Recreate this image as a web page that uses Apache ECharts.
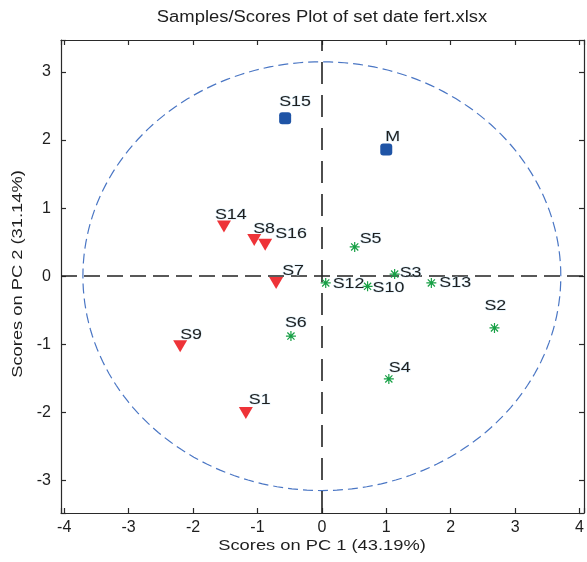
<!DOCTYPE html>
<html>
<head>
<meta charset="utf-8">
<script src="https://cdn.jsdelivr.net/npm/echarts@6/dist/echarts.min.js"></script>
<style>
html,body{margin:0;padding:0;background:#fff;}
#chart{width:587px;height:562px;}
</style>
</head>
<body>
<div id="chart"></div>
<script>
// ---- data ----
var titleText = 'Samples/Scores Plot of set date fert.xlsx';
var xAxisName = 'Scores on PC 1 (43.19%)';
var yAxisName = 'Scores on PC 2 (31.14%)';

var redNames = ['S14', 'S8', 'S16', 'S7', 'S9', 'S1'];
var redPC1 = [-1.52, -1.05, -0.88, -0.71, -2.20, -1.18];
var redPC2 = [0.73, 0.53, 0.46, -0.10, -1.03, -2.01];

var blueNames = ['S15', 'M'];
var bluePC1 = [-0.57, 1.00];
var bluePC2 = [2.32, 1.86];

var greenNames = ['S5', 'S3', 'S12', 'S10', 'S13', 'S2', 'S6', 'S4'];
var greenPC1 = [0.51, 1.13, 0.06, 0.71, 1.70, 2.68, -0.48, 1.04];
var greenPC2 = [0.43, 0.03, -0.10, -0.15, -0.10, -0.76, -0.88, -1.51];

// confidence ellipse semi-axes (data units)
var ellipseRx = [3.71];
var ellipseRy = [3.15];

// ---- styling (label placement, px) ----
var labelOffset = {
  S15: [-6, -17], M: [-1, -13], S14: [-9, -12], S8: [-1, -11], S16: [10, -11],
  S7: [6, -12], S9: [0, -12], S1: [3, -13], S6: [-6, -13], S4: [0, -11],
  S2: [-10, -22], S5: [5, -8], S3: [5, -1], S12: [7, 1], S10: [5, 1], S13: [8, 0]
};

function build(names, xs, ys) {
  return names.map(function (n, i) { return { name: n, value: [xs[i], ys[i]] }; });
}

var allPoints = build(redNames, redPC1, redPC2)
  .concat(build(blueNames, bluePC1, bluePC2))
  .concat(build(greenNames, greenPC1, greenPC2));

var FONT = '"Liberation Sans", Arial, sans-serif';
var TXT = '#1e1e1e';

var starPath = 'path://M8.8,0H11.2V20H8.8Z M0,8.8H20V11.2H0Z M2,3.7L3.7,2L18,16.3L16.3,18Z M16.3,2L18,3.7L3.7,18L2,16.3Z';

var XMIN = -4.05, XMAX = 4.07, YMIN = -3.48, YMAX = 3.47;

var axisCommon = {
  type: 'value',
  axisLine: { show: true, onZero: false, lineStyle: { color: '#2a2a2a', width: 1.2 } },
  axisTick: { show: true, inside: true, length: 5, lineStyle: { color: '#2a2a2a', width: 1.2 } },
  splitLine: { show: false }
};

function intLabel(v) { return Math.abs(v - Math.round(v)) < 1e-6 ? String(Math.round(v)) : ''; }

var chart = echarts.init(document.getElementById('chart'), null, { renderer: 'canvas' });
chart.setOption({
  animation: false,
  backgroundColor: '#ffffff',
  graphic: [
    {
      type: 'text', x: 322, y: 18, scaleX: 1.15, silent: true,
      style: { text: titleText, font: '16px ' + FONT, fill: TXT, align: 'center', verticalAlign: 'middle' }
    },
    {
      type: 'text', x: 322, y: 546, scaleX: 1.22, silent: true,
      style: { text: xAxisName, font: '15px ' + FONT, fill: TXT, align: 'center', verticalAlign: 'middle' }
    },
    {
      type: 'text', x: 18, y: 274, scaleX: 1.22, rotation: Math.PI / 2, silent: true,
      style: { text: yAxisName, font: '15px ' + FONT, fill: TXT, align: 'center', verticalAlign: 'middle' }
    }
  ],
  grid: { left: 61, right: 2, top: 40, bottom: 49 },
  xAxis: [
    Object.assign({}, axisCommon, {
      position: 'bottom', min: XMIN, max: XMAX, splitNumber: 8,
      axisLabel: { formatter: intLabel, fontFamily: FONT, fontSize: 16, color: TXT, margin: 7 }
    }),
    Object.assign({}, axisCommon, {
      position: 'top', min: XMIN, max: XMAX, splitNumber: 8,
      axisLabel: { show: false }
    })
  ],
  yAxis: [
    Object.assign({}, axisCommon, {
      position: 'left', min: YMIN, max: YMAX, splitNumber: 7,
      axisLabel: { formatter: intLabel, fontFamily: FONT, fontSize: 16, color: TXT, margin: 10 }
    }),
    Object.assign({}, axisCommon, {
      position: 'right', min: YMIN, max: YMAX, splitNumber: 7,
      axisLabel: { show: false }
    })
  ],
  series: [
    {
      type: 'custom',
      xAxisIndex: 0, yAxisIndex: 0,
      silent: true,
      z: 1,
      data: [[0, 0]],
      renderItem: function (params, api) {
        var cx = api.value(0), cy = api.value(1);
        var pts = [];
        var N = 200;
        for (var i = 0; i <= N; i++) {
          var t = (i / N) * Math.PI * 2;
          pts.push(api.coord([cx + ellipseRx[0] * Math.cos(t), cy + ellipseRy[0] * Math.sin(t)]));
        }
        return {
          type: 'polyline',
          shape: { points: pts },
          style: { stroke: '#4a76c4', lineWidth: 1.2, fill: null, lineDash: [10, 5] }
        };
      }
    },
    {
      type: 'scatter',
      xAxisIndex: 0, yAxisIndex: 0,
      z: 2,
      symbolSize: 0,
      data: [],
      markLine: {
        silent: true,
        symbol: 'none',
        label: { show: false },
        animation: false,
        data: [
          { xAxis: 0, lineStyle: { color: '#222', width: 1.6, type: [22, 11] } },
          { yAxis: 0, lineStyle: { color: '#222', width: 1.6, type: [16, 7] } }
        ]
      }
    },
    {
      name: 'red', type: 'scatter', xAxisIndex: 0, yAxisIndex: 0, z: 5,
      symbol: 'triangle', symbolRotate: 180, symbolSize: [14, 12],
      itemStyle: { color: '#ee3338', opacity: 1 },
      data: build(redNames, redPC1, redPC2)
    },
    {
      name: 'blue', type: 'scatter', xAxisIndex: 0, yAxisIndex: 0, z: 5,
      symbol: 'roundRect', symbolSize: 12,
      itemStyle: { color: '#1f54a6', opacity: 1 },
      data: build(blueNames, bluePC1, bluePC2)
    },
    {
      name: 'green', type: 'scatter', xAxisIndex: 0, yAxisIndex: 0, z: 5,
      symbol: starPath, symbolSize: 10,
      itemStyle: { color: '#17a045', opacity: 1 },
      data: build(greenNames, greenPC1, greenPC2)
    },
    {
      name: 'labels', type: 'custom', xAxisIndex: 0, yAxisIndex: 0, z: 6,
      silent: true,
      data: allPoints,
      renderItem: function (params, api) {
        var p = api.coord([api.value(0), api.value(1)]);
        var n = allPoints[params.dataIndex].name;
        var off = labelOffset[n] || [4, -10];
        return {
          type: 'text',
          x: p[0] + off[0], y: p[1] + off[1],
          scaleX: 1.15,
          style: {
            text: n, font: '15.5px ' + FONT, fill: TXT,
            align: 'left', verticalAlign: 'middle',
            stroke: 'rgba(190,225,245,0.6)', lineWidth: 1
          }
        };
      }
    }
  ]
});
</script>
</body>
</html>
